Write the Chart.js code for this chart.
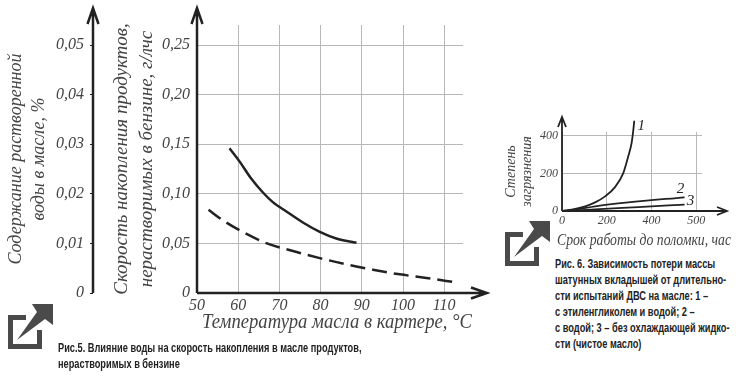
<!DOCTYPE html>
<html lang="ru">
<head>
    <meta charset="UTF-8">
    <title>Рис. 5, Рис. 6</title>
    <script src="https://cdn.jsdelivr.net/npm/chart.js"></script>
    <style>
        html, body { margin: 0; padding: 0; background: #fff; }
        body { position: relative; width: 745px; height: 379px; overflow: hidden; }
        canvas, svg, .caption { position: absolute; }
        .caption {
            font: bold 12px/16px "Liberation Sans", sans-serif;
            color: #222;
            white-space: pre;
            transform: scaleX(0.77);
            transform-origin: left top;
        }
    </style>
</head>
<body>
    <canvas id="fig5" width="490" height="345" style="left:0;top:0"></canvas>
    <canvas id="fig6" width="250" height="150" style="left:495px;top:105px"></canvas>

    <svg style="left:8px;top:304px" width="46" height="46"><use href="#share"/></svg>
    <svg style="left:505px;top:221px" width="46" height="46">
        <g id="share" fill="#4a4a4a">
            <path d="M18 13.5H2.5V42.5H31.5V26" fill="none" stroke="#4a4a4a" stroke-width="5"/>
            <polygon points="24,0 45,0 45,21 37,15 9,36 29,8"/>
        </g>
    </svg>

    <div class="caption" style="left:58px;top:340px">Рис.5. Влияние воды на скорость накопления в масле продуктов,
нерастворимых в бензине</div>
    <div class="caption" style="left:555px;top:256px">Рис. 6. Зависимость потери массы
шатунных вкладышей от длительно-
сти испытаний ДВС на масле: 1 –
с этиленгликолем и водой; 2 –
с водой; 3 – без охлаждающей жидко-
сти (чистое масло)</div>

    <script>
        // Рис. 5
        const speedTemp = [57.9, 60.4, 63.2, 66, 68.4, 71.7, 75.7, 79.8, 83.8, 88.7];
        const speedValues = [0.146, 0.1322, 0.1151, 0.1013, 0.0916, 0.0822, 0.0711, 0.0617, 0.055, 0.0507];
        const waterTemp = [52.8, 56.3, 60.4, 66.8, 73.3, 79.8, 86.2, 92.7, 99.2, 105.7, 112.9];
        const waterValues = [0.0839, 0.0732, 0.0631, 0.0503, 0.0423, 0.0352, 0.0289, 0.0235, 0.0188, 0.0151, 0.0107];
        const tempTicks = [50, 60, 70, 80, 90, 100, 110];
        const speedTicks = [0, 0.05, 0.10, 0.15, 0.20, 0.25];
        const speedTickLabels = ["0", "0,05", "0,10", "0,15", "0,20", "0,25"];
        const waterTicks = [0, 0.01, 0.02, 0.03, 0.04, 0.05];
        const waterTickLabels = ["0", "0,01", "0,02", "0,03", "0,04", "0,05"];

        // Рис. 6 (the last tick really reads 500 in the source figure)
        const curve1Hours = [0, 59, 104, 148, 193, 237, 274, 296, 311, 319, 323];
        const curve1Values = [0, 11, 25, 46, 78, 127, 202, 290, 361, 432, 481];
        const curve2Hours = [0, 60, 148, 296, 548];
        const curve2Values = [0, 7, 25, 46, 73];
        const curve3Hours = [0, 60, 148, 341, 548];
        const curve3Values = [0, 3, 9, 21, 34];
        const hourTicks = [0, 200, 400, 600];
        const hourTickLabels = ["0", "200", "400", "500"];
        const dirtTicks = [0, 200, 400];
        const dirtTickLabels = ["0", "200", "400"];

        const ink = "#222";
        const textInk = "#444";
        const gridInk = "#b8b8b8";
        const serif = "'Liberation Serif', serif";

        function toPoints(xs, ys) {
            return xs.map((x, i) => ({ x: x, y: ys[i] }));
        }

        function curve(xs, ys, dash, width) {
            return {
                data: toPoints(xs, ys),
                borderColor: ink,
                borderWidth: width,
                borderDash: dash,
                pointRadius: 0,
                cubicInterpolationMode: "monotone",
                clip: false
            };
        }

        // fixed ticks with their own labels, fixed box size so the plot lands where the original is
        function axis(values, labels, size, boxSize, pad, extra) {
            return Object.assign({
                ticks: {
                    autoSkip: false,
                    maxRotation: 0,
                    padding: pad,
                    color: textInk,
                    font: { family: serif, style: "italic", size: size },
                    callback: (v) => labels[values.indexOf(v)]
                },
                afterBuildTicks: (s) => { s.ticks = values.map((v) => ({ value: v })); },
                afterFit: (s) => {
                    if (s.isHorizontal()) s.height = boxSize; else s.width = boxSize;
                },
                border: { display: false }
            }, extra);
        }

        function arrow(ctx, x0, y0, x1, y1, len, half) {
            const a = Math.atan2(y1 - y0, x1 - x0);
            const c = Math.cos(a), s = Math.sin(a);
            ctx.beginPath();
            ctx.moveTo(x0, y0);
            ctx.lineTo(x1, y1);
            ctx.moveTo(x1 - len * c + half * s, y1 - len * s - half * c);
            ctx.lineTo(x1, y1);
            ctx.lineTo(x1 - len * c - half * s, y1 - len * s + half * c);
            ctx.stroke();
        }

        // axis lines run past the grid and end in arrows.
        // the x title is wider than the plot, so it gets its own box (chart.js squeezes it otherwise)
        const axesPlugin = {
            id: "axesArrows",
            afterLayout(chart, args, o) {
                const x = chart.scales.x;
                if (x._moved) return;
                x._moved = true;
                const drawTitle = x.drawTitle;
                x.drawTitle = function () {
                    const l = this.left, r = this.right;
                    this.left = o.titleBox[0];
                    this.right = o.titleBox[1];
                    drawTitle.call(this);
                    this.left = l;
                    this.right = r;
                };
            },
            afterDraw(chart, args, o) {
                const ctx = chart.ctx, area = chart.chartArea;
                ctx.save();
                ctx.strokeStyle = ink;
                ctx.lineWidth = o.width;
                ctx.lineJoin = "miter";
                arrow(ctx, area.left, area.bottom, o.right, area.bottom, o.len, o.half);
                arrow(ctx, area.left, area.bottom, area.left, o.top, o.len, o.half);
                if (chart.scales.y2) {
                    const x2 = chart.scales.y2.right;
                    arrow(ctx, x2, area.bottom, x2, o.top, o.len, o.half);
                }
                ctx.restore();
            }
        };

        // curve numbers next to the line ends
        const numbersPlugin = {
            id: "curveNumbers",
            afterDatasetsDraw(chart, args, o) {
                if (!o.labels) return;
                const ctx = chart.ctx;
                ctx.save();
                ctx.fillStyle = ink;
                ctx.font = "italic 15px " + serif;
                ctx.textAlign = "center";
                ctx.textBaseline = "middle";
                o.labels.forEach((l, i) => {
                    const pts = chart.getDatasetMeta(i).data;
                    const last = pts[pts.length - 1];
                    ctx.fillText(l.text, last.x + l.dx, last.y + l.dy);
                });
                ctx.restore();
            }
        };

        new Chart(document.getElementById("fig5"), {
            type: "line",
            data: {
                datasets: [
                    curve(speedTemp, speedValues, [], 2.5),
                    curve(waterTemp, waterValues, [15, 7], 2.5)
                ]
            },
            options: {
                responsive: false,
                animation: false,
                layout: { autoPadding: false, padding: { top: 25, right: 27, left: 0, bottom: 0 } },
                plugins: {
                    legend: { display: false },
                    tooltip: { enabled: false },
                    axesArrows: { titleBox: [202, 472], right: 487, top: 8, len: 16, half: 5.5, width: 2.5 }
                },
                scales: {
                    x: axis(tempTicks, tempTicks.map(String), 16, 52, 3, {
                        type: "linear",
                        min: 50,
                        max: 114.56,
                        grid: { color: gridInk, tickLength: 0 },
                        title: {
                            display: true,
                            text: "Температура масла в картере, °C",
                            color: textInk,
                            padding: { top: 0, bottom: 10 },
                            font: { family: serif, style: "italic", size: 20, lineHeight: 1.2 }
                        }
                    }),
                    y: axis(speedTicks, speedTickLabels, 16, 104, 7, {
                        min: 0,
                        max: 0.2702,
                        weight: 0,
                        grid: { color: gridInk, tickLength: 0 },
                        title: {
                            display: true,
                            text: ["Скорость накопления продуктов,", "нерастворимых в бензине, г/лчс"],
                            color: textInk,
                            padding: { top: 17, bottom: 0 },
                            font: { family: serif, style: "italic", size: 19, lineHeight: 1.3 }
                        }
                    }),
                    y2: axis(waterTicks, waterTickLabels, 16, 93, 6, {
                        position: "left",
                        min: 0,
                        max: 0.05404,
                        weight: 10,
                        grid: { drawOnChartArea: false, color: ink, tickLength: 3 },
                        title: {
                            display: true,
                            text: ["Содержание растворенной", "воды в масле, %"],
                            color: textInk,
                            padding: { top: 5, bottom: 0 },
                            font: { family: serif, style: "italic", size: 18, lineHeight: 1.28 }
                        }
                    })
                }
            },
            plugins: [axesPlugin]
        });

        new Chart(document.getElementById("fig6"), {
            type: "line",
            data: {
                datasets: [
                    curve(curve1Hours, curve1Values, [], 1.8),
                    curve(curve2Hours, curve2Values, [], 1.8),
                    curve(curve3Hours, curve3Values, [], 1.8)
                ]
            },
            options: {
                responsive: false,
                animation: false,
                layout: { autoPadding: false, padding: { top: 27, right: 43, left: 0, bottom: 0 } },
                plugins: {
                    legend: { display: false },
                    tooltip: { enabled: false },
                    axesArrows: { titleBox: [62, 236], right: 232, top: 12, len: 10, half: 4, width: 1.8 },
                    curveNumbers: {
                        labels: [
                            { text: "1", dx: 7, dy: 5 },
                            { text: "2", dx: -4, dy: -8 },
                            { text: "3", dx: 6, dy: -4 }
                        ]
                    }
                },
                scales: {
                    x: axis(hourTicks, hourTickLabels, 12, 44, 3, {
                        type: "linear",
                        min: 0,
                        max: 626,
                        grid: { color: gridInk, tickLength: 0 },
                        title: {
                            display: true,
                            text: "Срок работы до поломки, час",
                            color: textInk,
                            padding: { top: 0, bottom: 5 },
                            font: { family: serif, style: "italic", size: 16, lineHeight: 1.1 }
                        }
                    }),
                    y: axis(dirtTicks, dirtTickLabels, 12, 67, 4, {
                        min: 0,
                        max: 421,
                        grid: { color: gridInk, tickLength: 0 },
                        title: {
                            display: true,
                            text: ["Степень", "загрязнения"],
                            color: textInk,
                            padding: { top: 9, bottom: 0 },
                            font: { family: serif, style: "italic", size: 14, lineHeight: 1.1 }
                        }
                    })
                }
            },
            plugins: [axesPlugin, numbersPlugin]
        });
    </script>
</body>
</html>
